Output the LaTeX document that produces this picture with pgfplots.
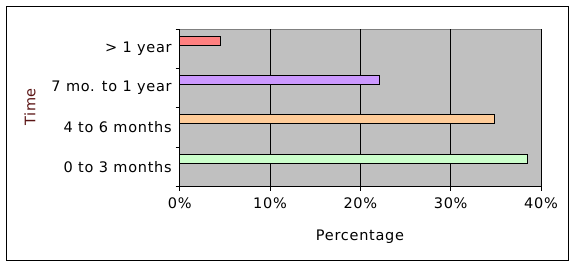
\documentclass[border=0pt]{standalone}
\usepackage{pgfplots}
\pgfplotsset{compat=1.18}
\usepackage{fontspec}
\setmainfont[LetterSpace=5]{DejaVu Sans}
\definecolor{plotbg}{RGB}{192,192,192}
\definecolor{bred}{RGB}{255,128,128}
\definecolor{bpurple}{RGB}{204,153,255}
\definecolor{borange}{RGB}{255,204,153}
\definecolor{bgreen}{RGB}{204,255,204}
\definecolor{timecol}{RGB}{90,20,20}
\begin{document}
\begin{tikzpicture}[x=1bp,y=1bp]
\fontsize{14.5bp}{17bp}\selectfont
\path (0,0) rectangle (576,268);
\draw[black,line width=1bp] (6.5,7.5) rectangle (568.5,261.5);
\begin{axis}[
  at={(179.7bp,81.3bp)}, anchor=south west,
  scale only axis, width=361.3bp, height=157.7bp,
  xmin=0, xmax=40, ymin=0, ymax=4,
  axis lines*=left,
  axis line style={black,line width=1bp},
  axis background/.style={fill=plotbg,draw={rgb,255:red,128;green,128;blue,128},line width=1bp},
  xtick={0,10,20,30,40},
  xticklabels={0\%,10\%,20\%,30\%,40\%},
  xmajorgrids, major grid style={black,line width=1bp},
  tick align=outside, major tick length=4bp,
  tick style={black,line width=1bp},
  ytick={0.5,1.5,2.5,3.5},
  yticklabels={0 to 3 months,4 to 6 months,7 mo. to 1 year,> 1 year},
  ytick style={draw=none},
  extra y ticks={0,1,2,3,4},
  extra y tick labels={},
  extra y tick style={ytick style={draw=black,line width=1bp}, grid=none},
  ticklabel style={font=\fontsize{14.5bp}{17bp}\selectfont},
  yticklabel style={xshift=1bp},
  xticklabel style={yshift=-2bp},
  xbar, bar width=9bp, bar shift=0pt,
  clip=false,
]
\addplot[draw=black,line width=1bp,fill=bgreen] coordinates {(38.5,0.71)};
\addplot[draw=black,line width=1bp,fill=borange] coordinates {(34.9,1.71)};
\addplot[draw=black,line width=1bp,fill=bpurple] coordinates {(22.1,2.70)};
\addplot[draw=black,line width=1bp,fill=bred] coordinates {(4.5,3.70)};
\end{axis}
\node[rotate=90,text=timecol] at (30,161) {Time};
\node at (360,31) {Percentage};
\end{tikzpicture}
\end{document}
